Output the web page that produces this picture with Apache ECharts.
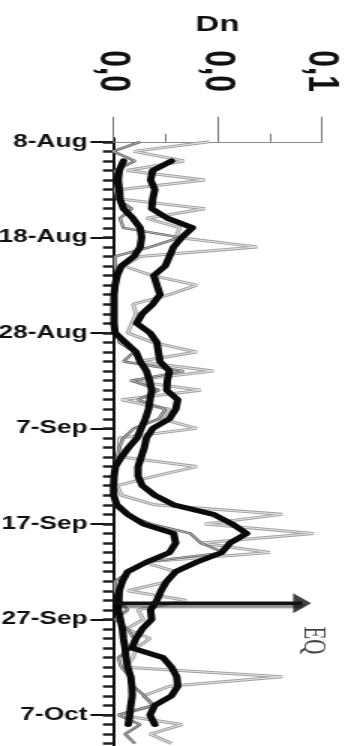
<!DOCTYPE html>
<html><head><meta charset="utf-8">
<script src="https://cdn.jsdelivr.net/npm/echarts@6/dist/echarts.min.js"></script>
<style>
html,body{margin:0;padding:0;background:#fff;overflow:hidden}
#wrap{width:345px;height:746px;overflow:hidden;position:relative}
#c{width:230px;height:746px;transform:scaleX(1.5);transform-origin:0 0}
</style></head>
<body><div id="wrap"><div id="c"></div></div>
<script>
// Day index 0 = 8-Aug
const tickDays = [0, 10, 20, 30, 40, 50, 60];
const tickLabels = ['8-Aug', '18-Aug', '28-Aug', '7-Sep', '17-Sep', '27-Sep', '7-Oct'];
const dayTicks = [];
for (let d = 0; d <= 63; d++) dayTicks.push(d);

const xTickValues = [0, 0.05, 0.1];
const xTickLabels = ['0,0', '0,0', '0,1'];

// daily Dn (light gray zig-zag), days 0..63
const dailyLight = [0.046,0.010,0.034,0.0065,0.044,0.004,0.004,0.044,0.016,0.032,
  0.030,0.069,0.013,0.005,0.019,0.040,0.027,0.0097,0.011,0.009,
  0.007,0.019,0.040,0.012,0.048,0.008,0.042,0.004,0.027,0.023,
  0.040,0.003,0.003,0.004,0.040,0.020,0.002,0.004,0.020,0.081,
  0.044,0.096,0.042,0.075,0.0145,0.030,0.027,0.007,0.035,0.012,
  0.0145,0.0065,0.0177,0.011,0.0097,0.006,0.081,0.027,0.0145,0.020,
  0.003,0.033,0.0177,0.028];
// daily Dn (dark gray), days 0..63
const dailyDark = [0.013,0.000,0.0105,0.001,0.0025,0.001,0.002,0.009,0.0033,0.005,
  0.032,0.018,0.001,0.001,0.002,0.0005,0.001,0.0005,0.001,0.0005,
  0.002,0.003,0.010,0.005,0.034,0.009,0.022,0.012,0.025,0.022,
  0.010,0.005,0.003,0.002,0.001,0.0005,0.0005,0.001,0.0005,0.006,
  0.018,0.037,0.042,0.053,0.015,0.008,0.001,0.001,0.003,0.007,
  0.001,0.007,0.010,0.009,0.0025,0.004,0.008,0.0097,0.015,0.019,
  0.0025,0.013,0.0057,0.0105];
// smoothed curves, days 2..61
const smoothStart = 2;
const smoothHigh = [0.028,0.019,0.018,0.020,0.019,0.0185,0.026,0.038,0.033,0.029,
  0.027,0.025,0.0195,0.021,0.0225,0.019,0.014,0.0113,0.0177,0.021,
  0.0217,0.0225,0.027,0.026,0.0257,0.031,0.030,0.027,0.019,0.016,
  0.015,0.0135,0.012,0.012,0.014,0.020,0.029,0.048,0.057,0.064,
  0.056,0.052,0.040,0.030,0.0257,0.023,0.021,0.018,0.0185,0.014,
  0.011,0.009,0.024,0.028,0.0305,0.031,0.028,0.020,0.0177,0.020];
const smoothLow = [0.005,0.003,0.0025,0.003,0.0033,0.005,0.0095,0.013,0.0137,0.013,
  0.010,0.004,0.002,0.001,0.0005,0.0005,0.0005,0.0005,0.001,0.006,
  0.011,0.013,0.016,0.0175,0.0185,0.0177,0.017,0.0155,0.0135,0.0115,
  0.0075,0.004,0.0012,0.0005,0.0003,0.0003,0.0018,0.007,0.0145,0.029,
  0.030,0.027,0.016,0.007,0.0045,0.003,0.0028,0.0025,0.0035,0.0045,
  0.005,0.0058,0.0062,0.007,0.0085,0.009,0.0092,0.0085,0.008,0.0073];

// earthquake marker
const eqDay = [48.3];
const eqArrowStart = [0];
const eqArrowEnd = [0.0905];
const eqLabelPos = [0.0955, 52.2];

const toPairs = (arr, start) => arr.map((v, i) => [v, i + start]);
const FONT = 'Liberation Sans, Arial, sans-serif';

const chart = echarts.init(document.getElementById('c'), null, {renderer: 'canvas'});
chart.setOption({
  animation: false,
  backgroundColor: '#fff',
  grid: {left: 75.33, right: 15.33, top: 138, bottom: 0, containLabel: false, outerBoundsMode: 'none'},
  xAxis: [{
    type: 'value', position: 'top', min: 0, max: 0.1, interval: 0.05,
    name: 'Dn', nameLocation: 'middle', nameGap: 102,
    nameTextStyle: {fontFamily: FONT, fontWeight: 'bold', fontSize: 22, color: '#111'},
    axisLine: {show: true, lineStyle: {color: '#8a8a8a', width: 1}},
    axisTick: {show: true, length: 25, lineStyle: {color: '#777', width: 1}},
    minorTick: {show: true, splitNumber: 2, length: 8, lineStyle: {color: '#777', width: 1}},
    axisLabel: {rotate: -90, margin: 46, fontFamily: FONT, fontWeight: 'bold', fontSize: 30, color: '#111',
      formatter: (v) => { const k = xTickValues.findIndex(t => Math.abs(t - v) < 1e-9); return k >= 0 ? xTickLabels[k] : ''; }},
    splitLine: {show: false}, minorSplitLine: {show: false}
  }],
  yAxis: [{
    type: 'value', inverse: true, position: 'left', min: -0.4, max: 63.25,
    axisLine: {show: true, lineStyle: {color: '#111', width: 2}},
    axisTick: {show: true, customValues: tickDays, length: 15, lineStyle: {color: '#111', width: 2}},
    axisLabel: {customValues: tickDays, margin: 17, fontFamily: FONT, fontWeight: 'bold', fontSize: 17.5, color: '#111',
      formatter: (v) => { const k = tickDays.indexOf(v); return k >= 0 ? tickLabels[k] : ''; }},
    splitLine: {show: false}
  }, {
    type: 'value', inverse: true, position: 'left', min: -0.4, max: 63.25,
    axisLine: {show: false},
    axisTick: {show: true, customValues: dayTicks, length: 6.7, lineStyle: {color: '#222', width: 2.5}},
    axisLabel: {show: false},
    splitLine: {show: false}
  }],
  series: [{
    type: 'line', yAxisIndex: 0, data: toPairs(dailyLight, 0), symbol: 'none', z: 2,
    lineStyle: {color: '#a2a2a2', width: 3}
  }, {
    // inner highlight giving the double-stroke look of the scanned line
    type: 'line', yAxisIndex: 0, data: toPairs(dailyLight, 0), symbol: 'none', z: 2, silent: true,
    lineStyle: {color: '#e6e6e6', width: 1}
  }, {
    type: 'line', yAxisIndex: 0, data: toPairs(dailyDark, 0), symbol: 'none', z: 3,
    lineStyle: {color: '#5e5e5e', width: 2.4}
  }, {
    type: 'line', yAxisIndex: 0, data: toPairs(dailyDark, 0), symbol: 'none', z: 3, silent: true,
    lineStyle: {color: '#cfcfcf', width: 0.8}
  }, {
    type: 'line', yAxisIndex: 0, data: toPairs(smoothLow, smoothStart), symbol: 'none', z: 4,
    lineStyle: {color: '#0a0a0a', width: 5, cap: 'round', join: 'round'}
  }, {
    type: 'line', yAxisIndex: 0, data: toPairs(smoothHigh, smoothStart), symbol: 'none', z: 4,
    lineStyle: {color: '#0a0a0a', width: 5, cap: 'round', join: 'round'}
  }, {
    // EQ arrow shaft
    type: 'line', yAxisIndex: 0, symbol: 'none', z: 5, silent: true,
    data: [[eqArrowStart[0], eqDay[0]], [eqArrowEnd[0], eqDay[0]]],
    lineStyle: {color: '#111', width: 3.5, shadowColor: 'rgba(0,0,0,0.5)', shadowOffsetY: 3, shadowBlur: 2}
  }, {
    // EQ arrow head
    type: 'scatter', yAxisIndex: 0, z: 6, silent: true,
    symbol: 'triangle', symbolRotate: -90, symbolSize: [20, 12],
    itemStyle: {color: '#111'},
    data: [[eqArrowEnd[0], eqDay[0]]]
  }, {
    // EQ label
    type: 'scatter', yAxisIndex: 0, z: 6, silent: true,
    symbol: 'circle', symbolSize: 1, itemStyle: {color: 'rgba(0,0,0,0)'},
    label: {show: true, position: 'inside', formatter: 'EQ', rotate: -90,
      fontFamily: 'Liberation Serif, Times New Roman, serif', fontSize: 21, color: '#111'},
    data: [eqLabelPos]
  }]
});
</script>
</body></html>
